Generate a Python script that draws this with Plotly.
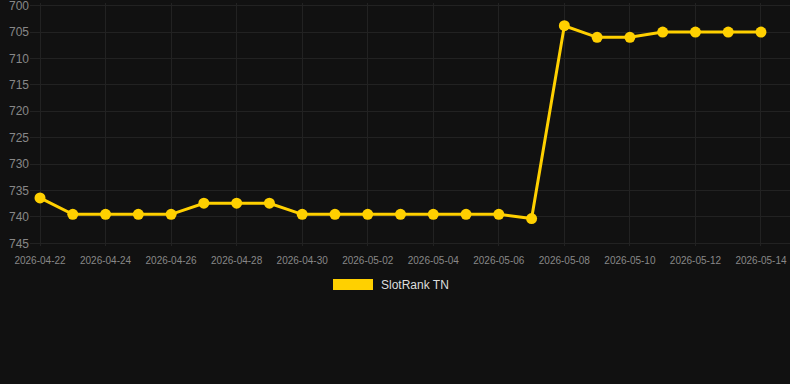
import plotly.graph_objects as go
import pandas as pd

dates = pd.date_range("2026-04-22", "2026-05-14", freq="D").strftime("%Y-%m-%d").tolist()
ranks = [736.4, 739.5, 739.5, 739.5, 739.5, 737.4, 737.4, 737.4,
         739.5, 739.5, 739.5, 739.5, 739.5, 739.5, 739.5, 740.3,
         703.8, 706.0, 706.0, 705.0, 705.0, 705.0, 705.0]
series_name = "SlotRank TN"
y_ticks = [700, 705, 710, 715, 720, 725, 730, 735, 740, 745]

gold = "#FFD000"
bg = "#111111"
grid = "#222222"

T, B = 3, 138
ph = 384 - T - B

fig = go.Figure()
fig.add_trace(go.Scatter(
    x=dates, y=ranks, mode="lines+markers", name=series_name,
    line=dict(color=gold, width=3),
    marker=dict(color=gold, size=11),
    showlegend=False,
))

fig.update_layout(
    width=790, height=384,
    paper_bgcolor=bg, plot_bgcolor=bg,
    margin=dict(l=30, r=0, t=T, b=B),
    font=dict(family="Liberation Sans, Arial, sans-serif", color="#888888"),
    xaxis=dict(
        type="date",
        range=["2026-04-21 16:40", "2026-05-14 21:15"],
        tickvals=dates[::2], ticktext=dates[::2],
        tickfont=dict(size=10, color="#888888"),
        ticklabelstandoff=7,
        showgrid=True, gridcolor=grid, gridwidth=1,
        zeroline=False, showline=False, ticks="",
    ),
    yaxis=dict(
        range=[745.5, 699.5],
        tickvals=y_ticks,
        tickfont=dict(size=12, color="#888888"),
        ticklabeloverflow="allow",
        showgrid=True, gridcolor=grid, gridwidth=1,
        zeroline=False, showline=False, ticks="",
    ),
    shapes=[dict(type="rect", xref="paper", yref="paper",
                 x0=(333 - 30) / 760, x1=(373 - 30) / 760,
                 y0=(384 - B - 290) / ph, y1=(384 - B - 279) / ph,
                 fillcolor=gold, line=dict(width=0))],
    annotations=[dict(text=series_name, xref="paper", yref="paper",
                      x=(379 - 30) / 760, y=(384 - B - 284.5) / ph,
                      xanchor="left", yanchor="middle", showarrow=False,
                      font=dict(size=12, color="#dddddd"))],
)

fig.write_html("out.html")
